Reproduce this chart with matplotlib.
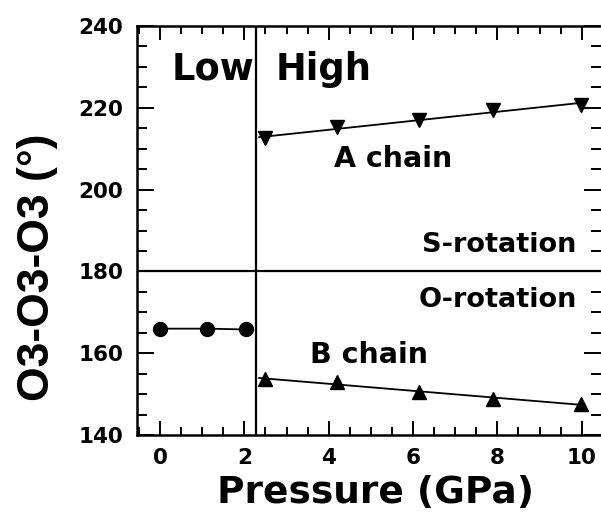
import matplotlib
matplotlib.use('Agg')
import matplotlib.pyplot as plt
import numpy as np
from matplotlib.ticker import MultipleLocator

# Low-pressure phase
p_low = [0.0, 1.12, 2.03]
ang_low = [166.0, 166.0, 165.8]

# High-pressure phase, A chain and B chain
p_high = [2.49, 4.19, 6.13, 7.90, 9.99]
ang_a = [212.5, 215.2, 217.0, 219.5, 220.7]
ang_b = [153.6, 152.9, 150.5, 148.8, 147.6]

# range of the linear fit lines through the high-pressure points
fit_x = [2.35, 10.0]

plt.rcParams['font.family'] = ['DejaVu Sans']
plt.rcParams['font.weight'] = 'bold'

fig = plt.figure(figsize=(6.01, 5.23), dpi=100)
ax = fig.add_axes([137 / 601, 88 / 523, (601 - 137) / 601, (435 - 26) / 523])

ax.plot(p_low, ang_low, '-', color='black', lw=1.3, marker='o', ms=10)

ca = np.polyfit(p_high, ang_a, 1)
cb = np.polyfit(p_high, ang_b, 1)
ax.plot(fit_x, np.polyval(ca, fit_x), '-', color='black', lw=1.3)
ax.plot(fit_x, np.polyval(cb, fit_x), '-', color='black', lw=1.3)
ax.plot(p_high, ang_a, 'v', color='black', ms=10)
ax.plot(p_high, ang_b, '^', color='black', ms=10)

ax.axvline(2.27, color='black', lw=1.6)
ax.axhline(180, color='black', lw=1.6)

ax.text(0.28, 226.8, 'Low', fontsize=26.5, fontweight='bold', ha='left', va='baseline')
ax.text(2.73, 226.8, 'High', fontsize=26.5, fontweight='bold', ha='left', va='baseline')
ax.text(4.12, 205.5, 'A chain', fontsize=20.5, fontweight='bold', ha='left', va='baseline')
ax.text(9.88, 184.7, 'S-rotation', fontsize=19.5, fontweight='bold', ha='right', va='baseline')
ax.text(9.88, 171.3, 'O-rotation', fontsize=19.5, fontweight='bold', ha='right', va='baseline')
ax.text(3.55, 157.6, 'B chain', fontsize=20.5, fontweight='bold', ha='left', va='baseline')

ax.set_xlim(-0.545, 10.456)
ax.set_ylim(140, 240)
ax.xaxis.set_major_locator(MultipleLocator(2))
ax.xaxis.set_minor_locator(MultipleLocator(0.5))
ax.yaxis.set_major_locator(MultipleLocator(20))
ax.yaxis.set_minor_locator(MultipleLocator(5))
ax.tick_params(which='both', direction='in', top=True, right=True, width=1.4)
ax.tick_params(axis='x', which='major', length=10, labelsize=15.5, pad=9)
ax.tick_params(axis='x', which='minor', length=6)
ax.tick_params(axis='y', which='major', length=12, labelsize=15.5, pad=10)
ax.tick_params(axis='y', which='minor', length=7)
for lab in ax.get_xticklabels() + ax.get_yticklabels():
    lab.set_fontweight('bold')

for side in ['left', 'bottom', 'top']:
    ax.spines[side].set_linewidth(1.8)
ax.spines['right'].set_visible(False)

ax.set_xlabel('Pressure (GPa)', fontsize=27, fontweight='bold')
ax.xaxis.set_label_coords(0.515, -0.098)
ax.set_ylabel('O3-O3-O3 (°)', fontsize=32, fontweight='bold',
              family=['Liberation Sans', 'DejaVu Sans'])
ax.yaxis.set_label_coords(-0.170, 0.411)

fig.savefig('out.png', dpi=100)
